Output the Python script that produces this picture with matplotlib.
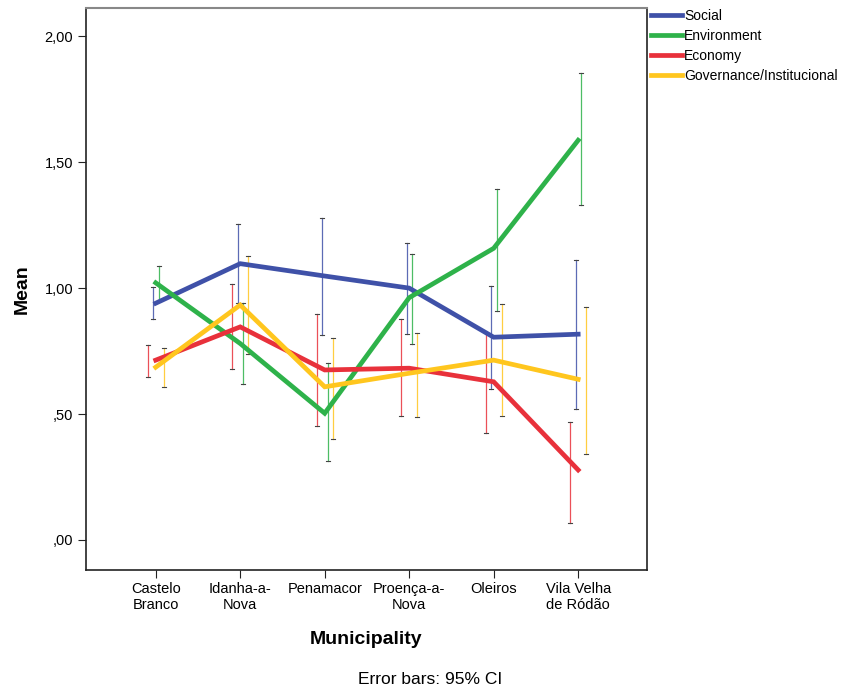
import matplotlib.pyplot as plt

plt.rcParams['font.family'] = ['Liberation Sans', 'DejaVu Sans']

municipalities = ['Castelo\nBranco', 'Idanha-a-\nNova', 'Penamacor',
                  'Proença-a-\nNova', 'Oleiros', 'Vila Velha\nde Ródão']

series_names = ['Social', 'Environment', 'Economy', 'Governance/Institucional']
series_colors = ['#3F51A8', '#2EB24A', '#E8313B', '#FFC61E']

social_mean = [0.94, 1.097, 1.048, 1.00, 0.805, 0.817]
social_low = [0.876, 0.94, 0.813, 0.817, 0.60, 0.521]
social_high = [1.003, 1.254, 1.277, 1.18, 1.008, 1.111]

environment_mean = [1.021, 0.78, 0.503, 0.962, 1.158, 1.587]
environment_low = [0.95, 0.62, 0.313, 0.778, 0.909, 1.329]
environment_high = [1.089, 0.94, 0.704, 1.135, 1.393, 1.855]

economy_mean = [0.714, 0.846, 0.675, 0.682, 0.628, 0.278]
economy_low = [0.648, 0.679, 0.454, 0.492, 0.426, 0.069]
economy_high = [0.774, 1.016, 0.897, 0.877, 0.82, 0.47]

governance_mean = [0.686, 0.933, 0.608, 0.662, 0.714, 0.638]
governance_low = [0.608, 0.74, 0.40, 0.489, 0.492, 0.341]
governance_high = [0.764, 1.127, 0.803, 0.82, 0.937, 0.926]

means = [social_mean, environment_mean, economy_mean, governance_mean]
lows = [social_low, environment_low, economy_low, governance_low]
highs = [social_high, environment_high, economy_high, governance_high]
# error bars are nudged sideways so they don't overlap
bar_offsets = [-0.03, 0.035, -0.095, 0.095]

fig = plt.figure(figsize=(8.5, 6.9), dpi=100)
ax = fig.add_axes([0.1007, 0.174, 0.66, 0.814])

x = list(range(len(municipalities)))
for name, color, m, lo, hi, off in zip(series_names, series_colors, means,
                                       lows, highs, bar_offsets):
    ax.plot(x, m, color=color, linewidth=3.4, label=name, zorder=3,
            solid_joinstyle='miter')
    for xi, l, h in zip(x, lo, hi):
        ax.plot([xi + off, xi + off], [l, h], color=color, linewidth=0.9,
                alpha=0.85, zorder=2)
        for yv in (l, h):
            ax.plot([xi + off - 0.025, xi + off + 0.025], [yv, yv],
                    color='#444444', linewidth=0.8, zorder=2)

ax.set_xlim(-0.83, 5.81)
ax.set_ylim(-0.119, 2.111)
ax.set_xticks(x)
ax.set_xticklabels(municipalities, fontsize=10.5, linespacing=1.1)
ax.set_yticks([0, 0.5, 1.0, 1.5, 2.0])
ax.set_yticklabels([',00', ',50', '1,00', '1,50', '2,00'], fontsize=10.5)
ax.tick_params(direction='out', length=6, width=0.8, color='#222222', pad=3)

for side in ['left', 'right', 'bottom']:
    ax.spines[side].set_color('#222222')
    ax.spines[side].set_linewidth(1.2)
ax.spines['top'].set_color('#888888')
ax.spines['top'].set_linewidth(1.5)

ax.set_ylabel('Mean', fontsize=14, fontweight='bold', labelpad=10)
ax.set_xlabel('Municipality', fontsize=14, fontweight='bold', labelpad=14)

fig.text(430 / 850, 1 - 679 / 690, 'Error bars: 95% CI', ha='center',
         va='center', fontsize=12.5)

fig.legend(loc='upper left', bbox_to_anchor=(651 / 850, 1 - 9 / 690),
           frameon=False, fontsize=10, handlelength=2.2, handletextpad=0.2,
           borderpad=0, borderaxespad=0, labelspacing=0.42)

fig.savefig('out.png', dpi=100)
plt.close(fig)
